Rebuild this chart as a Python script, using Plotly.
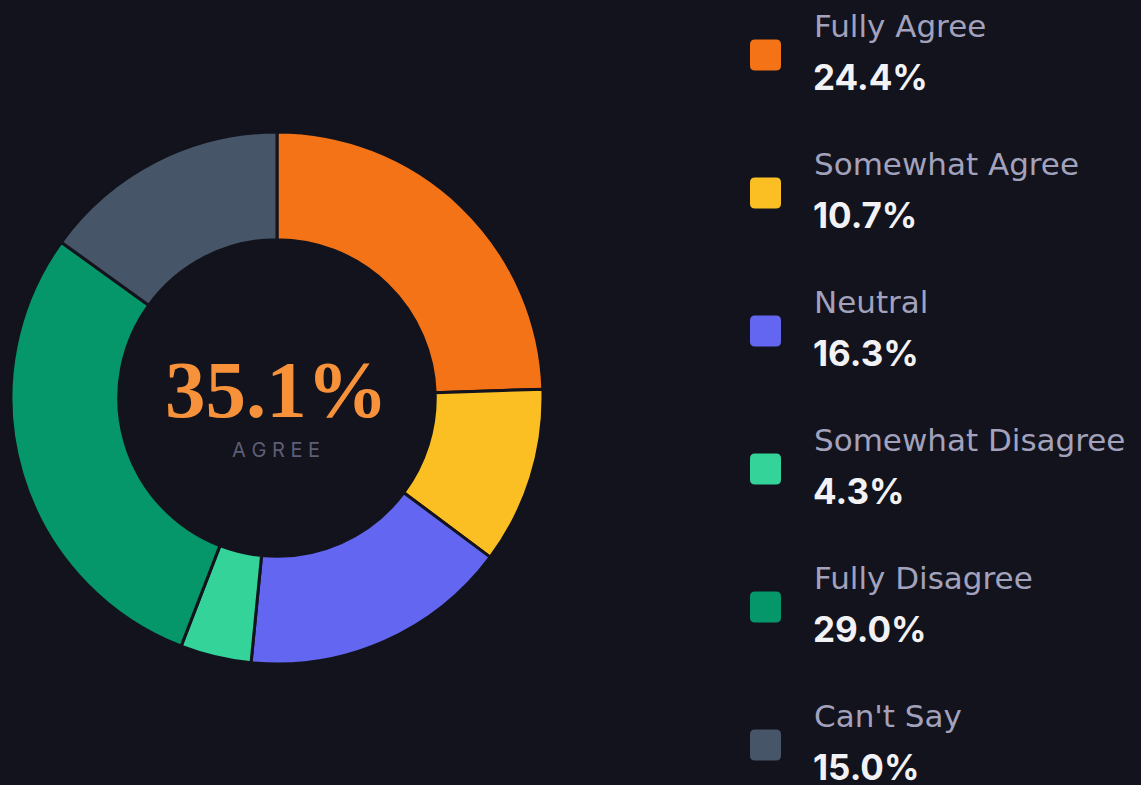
import plotly.graph_objects as go

categories = ["Fully Agree", "Somewhat Agree", "Neutral", "Somewhat Disagree", "Fully Disagree", "Can't Say"]
values = [24.4, 10.7, 16.3, 4.3, 29.0, 15.0]
colors = ["#f47316", "#fbbf24", "#6366f1", "#34d399", "#059669", "#475569"]
center_value = "35.1%"
center_label = "AGREE"

BG = "#12131c"
W, H = 1141, 785

cx, cy, R = 277, 398, 266


def px(x):
    return x / W


def py(y):
    return 1 - y / H


fig = go.Figure()
fig.add_trace(go.Pie(
    labels=categories, values=values, sort=False, direction="clockwise", rotation=0,
    hole=0.595, textinfo="none", hoverinfo="label+percent",
    marker=dict(colors=colors, line=dict(color=BG, width=3)),
    domain=dict(x=[px(cx - R), px(cx + R)], y=[py(cy + R), py(cy - R)]),
    showlegend=False,
))

annotations = [
    dict(x=px(276), y=py(390), xref="paper", yref="paper", text="<b>" + center_value + "</b>",
         showarrow=False, font=dict(family="Liberation Serif", size=81, color="#f7923a"),
         xanchor="center", yanchor="middle"),
    dict(x=px(276), y=py(450), xref="paper", yref="paper", text=" ".join(center_label),
         showarrow=False, font=dict(family="Inter", size=20, color="#5e5e76"),
         xanchor="center", yanchor="middle"),
]
shapes = []
step = 138.0
for i, (cat, val, col) in enumerate(zip(categories, values, colors)):
    sq_y = 55 + i * step
    x0, x1 = 750, 781
    y0, y1 = sq_y - 15.5, sq_y + 15.5
    r = 5
    path = (f"M {px(x0 + r)},{py(y0)} L {px(x1 - r)},{py(y0)} Q {px(x1)},{py(y0)} {px(x1)},{py(y0 + r)} "
            f"L {px(x1)},{py(y1 - r)} Q {px(x1)},{py(y1)} {px(x1 - r)},{py(y1)} L {px(x0 + r)},{py(y1)} "
            f"Q {px(x0)},{py(y1)} {px(x0)},{py(y1 - r)} L {px(x0)},{py(y0 + r)} Q {px(x0)},{py(y0)} {px(x0 + r)},{py(y0)} Z")
    shapes.append(dict(type="path", xref="paper", yref="paper", path=path, fillcolor=col, line=dict(width=0)))
    annotations.append(dict(x=px(812), y=py(26 + i * step), xref="paper", yref="paper", text=cat,
                            showarrow=False, xanchor="left", yanchor="middle",
                            font=dict(family="DejaVu Sans", size=31, color="#a3a2bd")))
    annotations.append(dict(x=px(811), y=py(77 + i * step), xref="paper", yref="paper",
                            text=f"<b>{val:.1f}%</b>",
                            showarrow=False, xanchor="left", yanchor="middle",
                            font=dict(family="Inter", size=35, color="#f2f2f5")))

fig.update_layout(
    width=W, height=H, paper_bgcolor=BG, plot_bgcolor=BG,
    margin=dict(l=0, r=0, t=0, b=0),
    annotations=annotations, shapes=shapes,
)
fig.write_html(
    "out.html",
    config={"displayModeBar": False},
    post_script="document.body.style.margin='0';document.body.style.padding='0';"
                "document.body.style.background='" + BG + "';"
                "document.documentElement.style.background='" + BG + "';"
                "document.body.style.overflow='hidden';",
)
